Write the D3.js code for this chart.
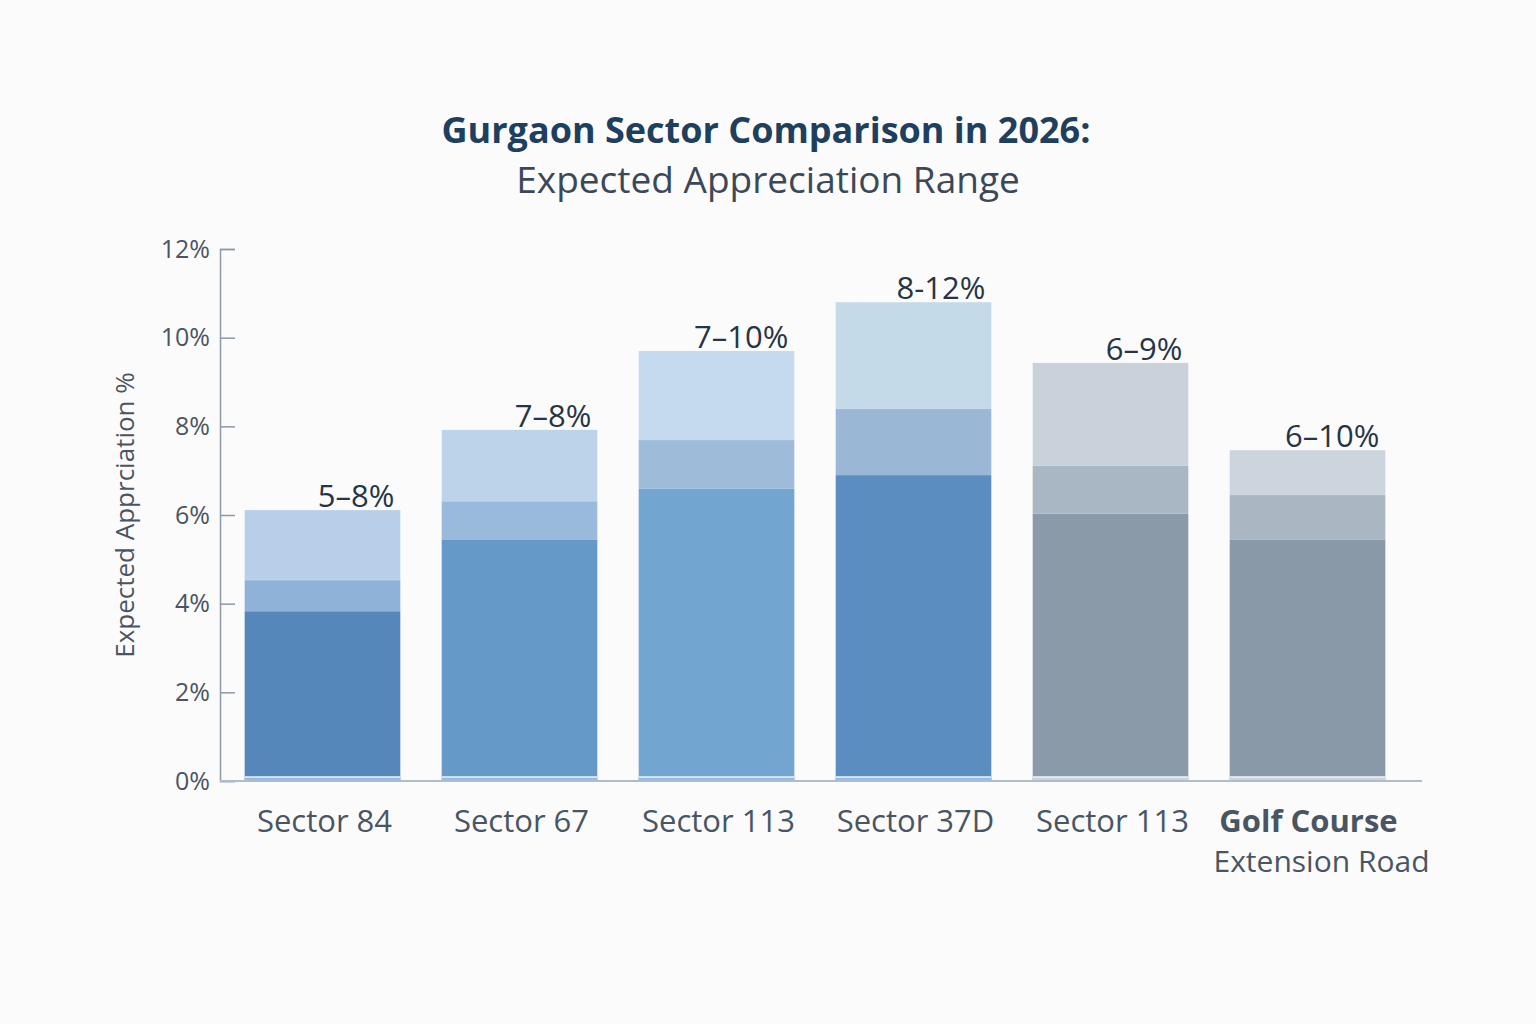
<!DOCTYPE html>
<html>
<head>
<meta charset="utf-8">
<script src="https://cdn.jsdelivr.net/npm/d3@7"></script>
<style>
  html, body { margin: 0; padding: 0; background: #fbfbfc; }
  svg { display: block; font-family: "Open Sans", "Noto Sans", sans-serif; }
</style>
</head>
<body>
<svg id="chart" width="1536" height="1024"></svg>
<script>
// ---- data ----
const categories = ["Sector 84", "Sector 67", "Sector 113", "Sector 37D", "Sector 113", "Golf Course|Extension Road"];
const rangeLabels = ["5–8%", "7–8%", "7–10%", "8-12%", "6–9%", "6–10%"];
const lowValues  = [3.83, 5.45, 6.59, 6.90, 6.03, 5.45];
const midValues  = [4.53, 6.31, 7.69, 8.39, 7.11, 6.45];
const highValues = [6.11, 7.92, 9.70, 10.80, 9.43, 7.46];
const yTicks = [0, 2, 4, 6, 8, 10, 12];
const baseStripValue = 0.09;

// ---- colours ----
const lowColors  = ["#5587ba", "#6599c8", "#72a5d0", "#5b8dc0", "#8a9aa9", "#8a99a8"];
const midColors  = ["#8eb2d8", "#99badd", "#9ebcda", "#9ab8d6", "#a9b6c3", "#aab7c3"];
const highColors = ["#b7cfe8", "#bcd3ea", "#c5daef", "#c4dae9", "#c9d2db", "#ccd4dd"];
const stripColors = ["#92bbee", "#92bbee", "#92bbee", "#92bbee", "#c6d5e4", "#c6d5e4"];

const svg = d3.select("#chart");

const x = d3.scaleBand()
  .domain(d3.range(categories.length))
  .range([224, 1406])
  .paddingInner(0.21)
  .paddingOuter(0.105);

const y = d3.scaleLinear().domain([0, 12]).range([781, 249]);

// Title
svg.append("text")
  .attr("x", 766).attr("y", 143)
  .attr("text-anchor", "middle")
  .attr("font-size", 36).attr("font-weight", 700)
  .attr("fill", "#1f3f5e")
  .text("Gurgaon Sector Comparison in 2026:");
svg.append("text")
  .attr("x", 768).attr("y", 193)
  .attr("text-anchor", "middle")
  .attr("font-size", 37)
  .attr("fill", "#3b4857")
  .text("Expected Appreciation Range");

// Y axis
const yAxis = d3.axisLeft(y)
  .tickValues(yTicks)
  .tickSize(-15)
  .tickPadding(10)
  .tickFormat(d => d + "%");
const gy = svg.append("g").attr("transform", "translate(220,0)").call(yAxis);
gy.select(".domain").attr("stroke", "#8d99a6").attr("stroke-width", 1.5);
gy.selectAll(".tick line").attr("stroke", "#8d99a6").attr("stroke-width", 1.5);
gy.selectAll(".tick text")
  .attr("font-size", 25)
  .attr("font-family", "'Open Sans', sans-serif")
  .attr("fill", "#4b5562");

// Y axis title
svg.append("text")
  .attr("transform", "translate(134,515) rotate(-90)")
  .attr("text-anchor", "middle")
  .attr("font-size", 26)
  .attr("fill", "#4b5562")
  .text("Expected Apprciation %");

// Bars
const idx = d3.range(categories.length);
const bars = svg.append("g");
bars.selectAll("rect.low").data(idx).join("rect")
  .attr("x", i => x(i)).attr("width", x.bandwidth())
  .attr("y", i => y(lowValues[i])).attr("height", i => y(0) - y(lowValues[i]))
  .attr("fill", i => lowColors[i]);
bars.selectAll("rect.mid").data(idx).join("rect")
  .attr("x", i => x(i)).attr("width", x.bandwidth())
  .attr("y", i => y(midValues[i])).attr("height", i => y(lowValues[i]) - y(midValues[i]))
  .attr("fill", i => midColors[i]);
bars.selectAll("rect.high").data(idx).join("rect")
  .attr("x", i => x(i)).attr("width", x.bandwidth())
  .attr("y", i => y(highValues[i])).attr("height", i => y(midValues[i]) - y(highValues[i]))
  .attr("fill", i => highColors[i]);
// base strip
bars.selectAll("rect.strip").data(idx).join("rect")
  .attr("x", i => x(i)).attr("width", x.bandwidth())
  .attr("y", y(baseStripValue)).attr("height", y(0) - y(baseStripValue))
  .attr("fill", i => stripColors[i]);
bars.selectAll("line.stripline").data(idx).join("line")
  .attr("x1", i => x(i)).attr("x2", i => x(i) + x.bandwidth())
  .attr("y1", y(baseStripValue)).attr("y2", y(baseStripValue))
  .attr("stroke", "#eef3f9").attr("stroke-width", 1.5);

// X axis baseline
svg.append("line")
  .attr("x1", 220).attr("x2", 1422)
  .attr("y1", y(0)).attr("y2", y(0))
  .attr("stroke", "#aebdcc").attr("stroke-width", 2);

// Range labels
svg.selectAll("text.range").data(idx).join("text")
  .attr("x", i => x(i) + x.bandwidth() - 6)
  .attr("y", i => y(highValues[i]) - 3)
  .attr("text-anchor", "end")
  .attr("font-size", 31)
  .attr("fill", "#263545")
  .text(i => rangeLabels[i]);

// Category labels
idx.forEach(i => {
  const parts = categories[i].split("|");
  const cx = x(i) + x.bandwidth() / 2;
  if (parts.length === 1) {
    svg.append("text")
      .attr("x", cx + 2).attr("y", 832)
      .attr("text-anchor", "middle")
      .attr("font-size", 31)
      .attr("fill", "#4a5563")
      .text(parts[0]);
  } else {
    svg.append("text")
      .attr("x", cx + 1).attr("y", 832)
      .attr("text-anchor", "middle")
      .attr("font-size", 31).attr("font-weight", 700)
      .attr("fill", "#4a5563")
      .text(parts[0]);
    svg.append("text")
      .attr("x", cx + 14).attr("y", 872)
      .attr("text-anchor", "middle")
      .attr("font-size", 30)
      .attr("fill", "#4a5563")
      .text(parts[1]);
  }
});
</script>
</body>
</html>
